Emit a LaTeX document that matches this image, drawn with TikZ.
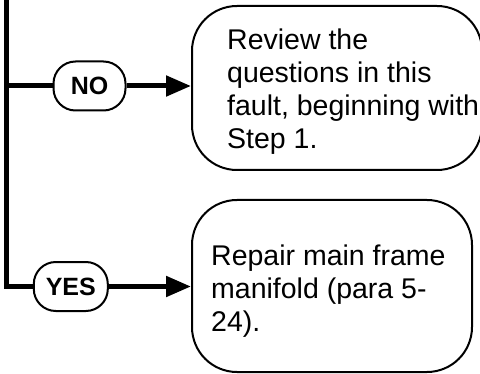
\documentclass[tikz,border=0pt]{standalone}
\usepackage{fontspec}
\setmainfont{Liberation Sans}
\usetikzlibrary{arrows.meta,positioning,calc}
\tikzset{
  box/.style   = {rounded corners=45pt, draw=black, line width=2pt, inner sep=0pt},
  pill/.style  = {rounded corners=22pt, draw=black, line width=2pt, inner sep=0pt,
                  minimum height=49pt, font=\fontsize{25}{30}\selectfont\bfseries},
  txt/.style   = {align=left, inner sep=0pt, font=\fontsize{28.5}{33}\selectfont},
  trunk/.style = {line width=5pt},
  ar/.style    = {-{Triangle[length=25pt, width=20pt]}, line width=5pt},
}
\begin{document}
\begin{tikzpicture}[x=1pt, y=1pt]
  \useasboundingbox (0,0) rectangle (480,373);
  % boxes on the right
  \node[box, minimum width=290pt, minimum height=164pt] (rev) at (337,285) {};
  \node[box, minimum width=280pt, minimum height=172pt] (rep) at (332,87) {};
  \node[txt, anchor=north west] (revtxt) at ([xshift=36pt, yshift=-24pt]rev.north west)
    {Review the\\ questions in this\\ fault, beginning with\\ Step 1.};
  \node[txt, anchor=north west] (reptxt) at ([xshift=20pt, yshift=-46pt]rep.north west)
    {Repair main frame\\ manifold (para 5-\\ 24).};
  % answers
  \node[pill, minimum width=72pt] (no) at (89.5,287) {NO};
  \node[pill, minimum width=74pt] (yes) at (70.8,86.5) {YES};
  \coordinate (spine) at (6.5,376);
  \draw[trunk] (spine) |- (yes.west);
  \draw[trunk] (spine |- no.west) -- (no.west);
  \draw[ar] (no.east) -- (no.east -| rev.west);
  \draw[ar] (yes.east) -- (yes.east -| rep.west);
\end{tikzpicture}
\end{document}
